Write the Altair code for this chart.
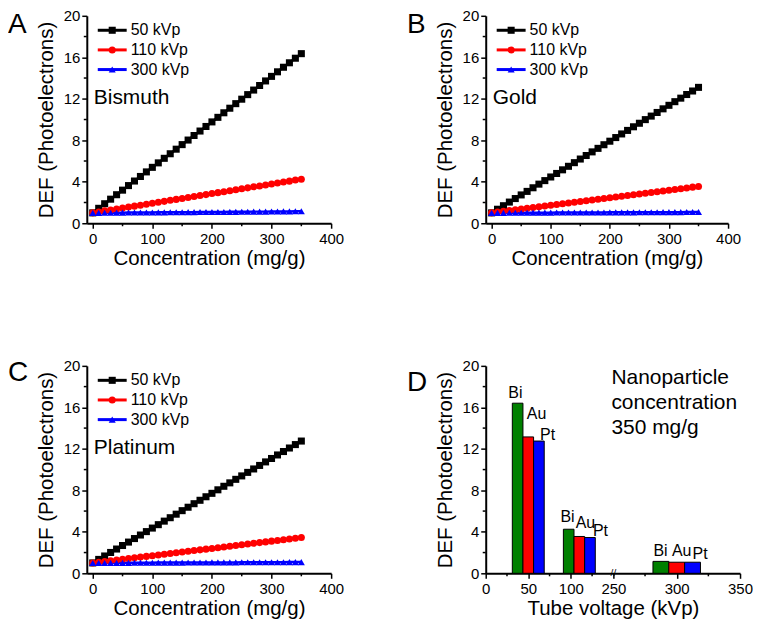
import altair as alt
import pandas as pd

FONT = "Liberation Sans"

# ---------------- data ----------------
conc = [0, 10, 20, 30, 40, 50, 60, 70, 80, 90, 100, 110, 120, 130, 140, 150, 160, 170,
        180, 190, 200, 210, 220, 230, 240, 250, 260, 270, 280, 290, 300, 310, 320, 330, 340, 350]
series = ["50 kVp", "110 kVp", "300 kVp"]
series_colors = ["#000000", "#FF0000", "#0000FF"]
series_shapes = ["square", "circle", "triangle-up"]
series_sizes = [50, 50, 75]

bi_50 = [1.00, 1.44, 1.88, 2.32, 2.75, 3.19, 3.63, 4.07, 4.51, 4.95, 5.39, 5.82, 6.26, 6.70, 7.14, 7.58, 8.02, 8.46,
         8.89, 9.33, 9.77, 10.21, 10.65, 11.09, 11.53, 11.96, 12.40, 12.84, 13.28, 13.72, 14.16, 14.60, 15.04, 15.47, 15.91, 16.35]
bi_110 = [1.00, 1.09, 1.19, 1.28, 1.37, 1.46, 1.56, 1.65, 1.74, 1.84, 1.93, 2.02, 2.11, 2.21, 2.30, 2.39, 2.49, 2.58,
          2.67, 2.76, 2.86, 2.95, 3.04, 3.14, 3.23, 3.32, 3.41, 3.51, 3.60, 3.69, 3.79, 3.88, 3.97, 4.06, 4.16, 4.25]
bi_300 = [1.00, 1.00, 1.01, 1.01, 1.02, 1.02, 1.03, 1.03, 1.03, 1.04, 1.04, 1.05, 1.05, 1.06, 1.06, 1.06, 1.07, 1.07,
          1.08, 1.08, 1.09, 1.09, 1.09, 1.10, 1.10, 1.11, 1.11, 1.12, 1.12, 1.12, 1.13, 1.13, 1.14, 1.14, 1.15, 1.15]

au_50 = [1.00, 1.35, 1.69, 2.04, 2.38, 2.73, 3.07, 3.42, 3.77, 4.11, 4.46, 4.80, 5.15, 5.49, 5.84, 6.19, 6.53, 6.88,
         7.22, 7.57, 7.91, 8.26, 8.61, 8.95, 9.30, 9.64, 9.99, 10.33, 10.68, 11.03, 11.37, 11.72, 12.06, 12.41, 12.75, 13.10]
au_110 = [1.00, 1.07, 1.15, 1.22, 1.29, 1.36, 1.44, 1.51, 1.58, 1.66, 1.73, 1.80, 1.87, 1.95, 2.02, 2.09, 2.17, 2.24,
          2.31, 2.38, 2.46, 2.53, 2.60, 2.68, 2.75, 2.82, 2.89, 2.97, 3.04, 3.11, 3.19, 3.26, 3.33, 3.40, 3.48, 3.55]
au_300 = [1.00, 1.00, 1.00, 1.01, 1.01, 1.01, 1.01, 1.02, 1.02, 1.02, 1.02, 1.03, 1.03, 1.03, 1.03, 1.03, 1.04, 1.04,
          1.04, 1.04, 1.05, 1.05, 1.05, 1.05, 1.05, 1.06, 1.06, 1.06, 1.06, 1.07, 1.07, 1.07, 1.07, 1.08, 1.08, 1.08]

pt_50 = [1.00, 1.34, 1.67, 2.01, 2.34, 2.68, 3.01, 3.35, 3.69, 4.02, 4.36, 4.69, 5.03, 5.36, 5.70, 6.04, 6.37, 6.71,
         7.04, 7.38, 7.71, 8.05, 8.39, 8.72, 9.06, 9.39, 9.73, 10.06, 10.40, 10.74, 11.07, 11.41, 11.74, 12.08, 12.41, 12.75]
pt_110 = [1.00, 1.07, 1.14, 1.21, 1.28, 1.35, 1.42, 1.49, 1.56, 1.63, 1.70, 1.77, 1.84, 1.91, 1.98, 2.05, 2.12, 2.19,
          2.26, 2.33, 2.40, 2.47, 2.54, 2.61, 2.68, 2.75, 2.82, 2.89, 2.96, 3.03, 3.10, 3.17, 3.24, 3.31, 3.38, 3.45]
pt_300 = [1.00, 1.00, 1.00, 1.01, 1.01, 1.01, 1.01, 1.02, 1.02, 1.02, 1.02, 1.03, 1.03, 1.03, 1.03, 1.03, 1.04, 1.04,
          1.04, 1.04, 1.05, 1.05, 1.05, 1.05, 1.05, 1.06, 1.06, 1.06, 1.06, 1.07, 1.07, 1.07, 1.07, 1.08, 1.08, 1.08]

voltages = [50, 110, 300]
elements = ["Bi", "Au", "Pt"]
element_colors = ["#008000", "#FF0000", "#0000FF"]
bar_bi = [16.4, 4.25, 1.15]
bar_au = [13.15, 3.55, 1.07]
bar_pt = [12.75, 3.45, 1.07]
# annotation anchors for bar labels (data units)
lab_x = [34.8, 59.8, 72.7, 96.1, 117.2, 134.8, 287.2, 303.9, 318.5]
lab_y = [17.4, 15.4, 13.3, 5.4, 4.84, 4.04, 2.19, 2.19, 1.86]
lab_t = ["Bi", "Au", "Pt", "Bi", "Au", "Pt", "Bi", "Au", "Pt"]

x_ticks = [0, 100, 200, 300, 400]
x_minor = [50, 150, 250, 350]
y_ticks = [0, 4, 8, 12, 16, 20]
y_minor = [2, 6, 10, 14, 18]
d_ticks = [0, 50, 100, 250, 300, 350]
d_minor = [25, 75, 125, 275, 325]

# ---------------- layout constants ----------------
W1, WB, WD, H = 245, 243, 255, 208
ysc = alt.Scale(domain=[0, 20], nice=False, zero=False)


def y_axis():
    return alt.Axis(values=y_ticks, title="DEF (Photoelectrons)", titleX=-40, titleY=H / 2,
                    titleAngle=270, titleBaseline="middle", titleAlign="center",
                    labelFlush=False, labelOverlap=False, labelPadding=2)


def x_axis(title, values, width):
    return alt.Axis(values=values, title=title, titleX=width / 2, titleY=41.4,
                    titleBaseline="alphabetic", titleAlign="center",
                    labelFlush=False, labelOverlap=False, labelPadding=3.4)


def minor_layers(xfield, xvals, xscale):
    mx = alt.Chart(pd.DataFrame({xfield: xvals})).mark_rule(color="black", strokeWidth=1.5).encode(
        x=alt.X(f"{xfield}:Q", scale=xscale), y=alt.value(H), y2=alt.value(H + 3))
    my = alt.Chart(pd.DataFrame({"y": y_minor})).mark_rule(color="black", strokeWidth=1.5).encode(
        y=alt.Y("y:Q", scale=ysc), x=alt.value(0), x2=alt.value(-3))
    return [mx, my]


def letter_layer(letter, ypos):
    return alt.Chart(pd.DataFrame({"t": [letter]})).mark_text(
        align="left", baseline="top", fontSize=28, font=FONT, color="black").encode(
        text="t:N", x=alt.value(-79), y=alt.value(ypos))


def line_panel(letter, letter_y, material, v50, v110, v300, width):
    n = len(conc)
    df = pd.DataFrame({
        "x": conc * 3,
        "y": v50 + v110 + v300,
        "series": [series[0]] * n + [series[1]] * n + [series[2]] * n,
    })
    xsc = alt.Scale(domain=[-10, 400], nice=False, zero=False)
    csc = alt.Scale(domain=series, range=series_colors)
    ssc = alt.Scale(domain=series, range=series_shapes)
    zsc = alt.Scale(domain=series, range=series_sizes)
    base = alt.Chart(df)
    lines = base.mark_line(strokeWidth=2.5).encode(
        x=alt.X("x:Q", scale=xsc, axis=x_axis("Concentration (mg/g)", x_ticks, width)),
        y=alt.Y("y:Q", scale=ysc, axis=y_axis()),
        color=alt.Color("series:N", scale=csc, legend=None),
    )
    points = base.mark_point(filled=True, opacity=1).encode(
        x=alt.X("x:Q", scale=xsc),
        y=alt.Y("y:Q", scale=ysc),
        color=alt.Color("series:N", scale=csc, legend=None),
        shape=alt.Shape("series:N", scale=ssc, legend=None),
        size=alt.Size("series:N", scale=zsc, legend=None),
    )
    leg = pd.DataFrame({"series": series, "row": [0, 1, 2]})
    legbase = alt.Chart(leg).transform_calculate(py="14.5 + datum.row * 19.7")
    leg_line = legbase.mark_rule(strokeWidth=3).encode(
        y=alt.Y("py:Q", scale=None), x=alt.value(11), x2=alt.value(40),
        color=alt.Color("series:N", scale=csc, legend=None))
    leg_pt = legbase.mark_point(filled=True, opacity=1).encode(
        y=alt.Y("py:Q", scale=None), x=alt.value(25.5),
        color=alt.Color("series:N", scale=csc, legend=None),
        shape=alt.Shape("series:N", scale=ssc, legend=None),
        size=alt.Size("series:N", scale=zsc, legend=None))
    leg_txt = legbase.mark_text(align="left", baseline="middle", fontSize=16, font=FONT, color="black").encode(
        y=alt.Y("py:Q", scale=None), x=alt.value(44), text="series:N")
    mat = alt.Chart(pd.DataFrame({"t": [material]})).mark_text(
        align="left", baseline="middle", fontSize=21, font=FONT, color="black").encode(
        text="t:N", x=alt.value(7), y=alt.value(82))
    layers = [lines, points] + minor_layers("x", x_minor, xsc) + [leg_line, leg_pt, leg_txt, mat,
                                                                 letter_layer(letter, letter_y)]
    return alt.layer(*layers).properties(width=width, height=H)


def bar_panel():
    rows = []
    vals = [bar_bi, bar_au, bar_pt]
    for ei, el in enumerate(elements):
        for vi, v in enumerate(voltages):
            rows.append({"voltage": v, "element": el, "ei": ei, "def": vals[ei][vi]})
    bdf = pd.DataFrame(rows)
    dsc = alt.Scale(domain=[0, 150, 250, 350], range=[0, 128, 128, WD], nice=False, zero=False)
    esc = alt.Scale(domain=elements, range=element_colors)
    bars = alt.Chart(bdf).transform_calculate(
        x1="datum.voltage + (datum.ei - 1.5) * 12.5",
        x2="datum.voltage + (datum.ei - 0.5) * 12.5",
    ).mark_bar(stroke="black", strokeWidth=1, opacity=1).encode(
        x=alt.X("x1:Q", scale=dsc, axis=x_axis("Tube voltage (kVp)", d_ticks, WD)),
        x2="x2:Q",
        y=alt.Y("def:Q", scale=ysc, axis=y_axis()),
        y2=alt.datum(0),
        fill=alt.Fill("element:N", scale=esc, legend=None),
    )
    labs = alt.Chart(pd.DataFrame({"x1": lab_x, "def": lab_y, "t": lab_t})).mark_text(
        fontSize=16, font=FONT, color="black", align="center", baseline="middle").encode(
        x=alt.X("x1:Q", scale=dsc), y=alt.Y("def:Q", scale=ysc), text="t:N")
    brk = alt.Chart(pd.DataFrame({"x1": [150], "t": ["//"]})).mark_text(
        fontSize=10, font=FONT, color="black", align="center", baseline="middle").encode(
        x=alt.X("x1:Q", scale=dsc), y=alt.value(H), text="t:N")
    note = alt.Chart(pd.DataFrame({"t": ["Nanoparticle\nconcentration\n350 mg/g"]})).mark_text(
        align="left", baseline="top", fontSize=21, font=FONT, color="black",
        lineBreak="\n", lineHeight=25).encode(text="t:N", x=alt.value(126), y=alt.value(1))
    layers = [bars, labs, brk, note] + minor_layers("x1", d_minor, dsc) + [letter_layer("D", 3)]
    return alt.layer(*layers).properties(width=WD, height=H)


pA = line_panel("A", -4.5, "Bismuth", bi_50, bi_110, bi_300, W1)
pB = line_panel("B", -4.5, "Gold", au_50, au_110, au_300, WB)
pC = line_panel("C", -7, "Platinum", pt_50, pt_110, pt_300, W1)
pD = bar_panel()

chart = alt.concat(
    pA, pB, pC, pD, columns=2, spacing={"row": 143, "column": 155}, bounds="flush"
).resolve_scale(
    color="independent", shape="independent", fill="independent", size="independent",
    x="independent", y="independent",
).properties(padding=0).configure_axis(
    labelFont=FONT, titleFont=FONT, labelFontSize=15, titleFontSize=20.5,
    titleFontWeight="normal", labelColor="black", titleColor="black",
    domainColor="black", tickColor="black", domainWidth=2, tickWidth=1.5,
    tickSize=5, grid=False,
).configure_view(stroke=None)

chart.save("out.html", embed_options={"renderer": "svg", "actions": False})
